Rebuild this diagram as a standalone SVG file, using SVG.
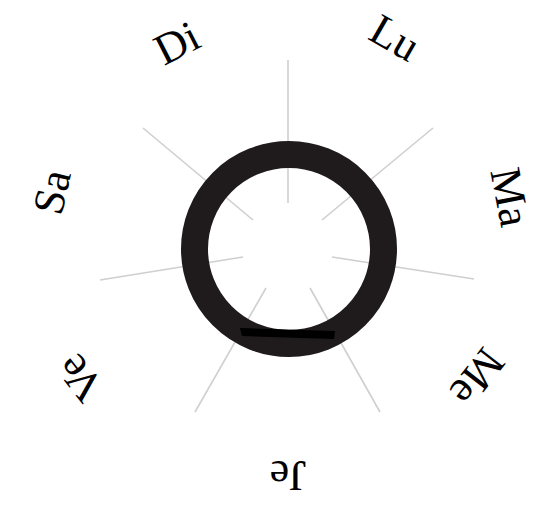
<svg xmlns="http://www.w3.org/2000/svg" width="544" height="510" viewBox="0 0 544 510">
<style>
.ax{stroke:#cfcfcf;stroke-width:1.6;fill:none}
.lbl{font-size:44px;fill:#000;text-anchor:middle;dominant-baseline:central}
</style>
<rect width="544" height="510" fill="#fff"/>
<g id="axes">
<line class="ax" x1="288" y1="203" x2="288" y2="60"/>
<line class="ax" x1="322" y1="220" x2="433" y2="128"/>
<line class="ax" x1="332" y1="257" x2="474" y2="279"/>
<line class="ax" x1="310" y1="288" x2="380" y2="412"/>
<line class="ax" x1="266" y1="288" x2="195" y2="412"/>
<line class="ax" x1="243" y1="257" x2="100" y2="280"/>
<line class="ax" x1="253" y1="220" x2="143" y2="128"/>
</g>
<g id="ring">
<circle cx="289" cy="249" r="94.5" fill="none" stroke="#1f1b1c" stroke-width="27"/>
<polygon points="240,328 335,331 334,339 242,336" fill="#000"/>
</g>
<g font-family="Liberation Serif, Times New Roman, serif">
<g id="label-Lu"><text class="lbl" transform="translate(395,38) rotate(30)">Lu</text></g>
<g id="label-Ma"><text class="lbl" transform="translate(510,197) rotate(79)">Ma</text></g>
<g id="label-Me"><text class="lbl" transform="translate(477,377) rotate(128)">Me</text></g>
<g id="label-Je"><text class="lbl" transform="translate(288,475) rotate(180)">Je</text></g>
<g id="label-Ve"><text class="lbl" transform="translate(80,378) rotate(232)">Ve</text></g>
<g id="label-Sa"><text class="lbl" transform="translate(52,192) rotate(283)">Sa</text></g>
<g id="label-Di"><text class="lbl" transform="translate(177,43) rotate(-27)">Di</text></g>
</g>
</svg>
